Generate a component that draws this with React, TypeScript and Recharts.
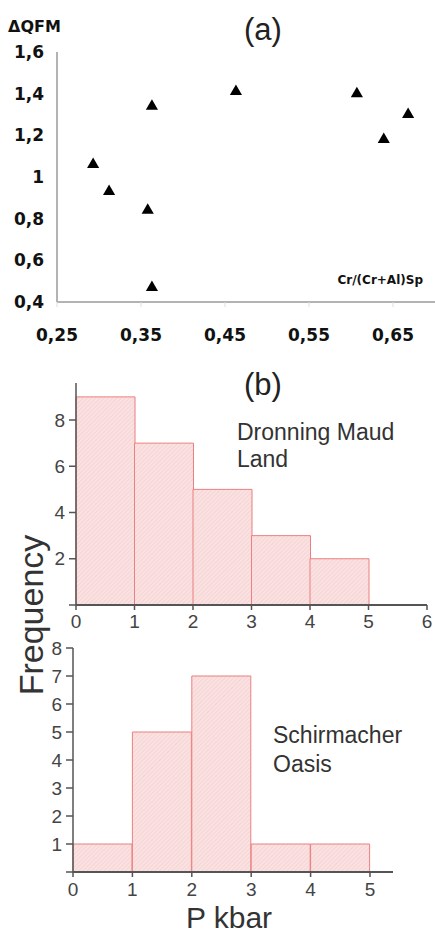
import React from 'react';
import {
  ScatterChart,
  Scatter,
  BarChart,
  Bar,
  XAxis,
  YAxis,
  ZAxis,
} from 'recharts';

// (a) ΔQFM vs Cr/(Cr+Al) in spinel
const crNumber = [0.293, 0.312, 0.358, 0.363, 0.363, 0.463, 0.607, 0.639, 0.668];
const dQFM = [1.06, 0.93, 0.84, 0.47, 1.34, 1.41, 1.4, 1.18, 1.3];
const scatterXTicks = [0.25, 0.35, 0.45, 0.55, 0.65];
const scatterYTicks = [0.4, 0.6, 0.8, 1, 1.2, 1.4, 1.6];

// (b) pressure histograms, bins of 1 kbar
const binStarts = [0, 1, 2, 3, 4];
const dmlCounts = [9, 7, 5, 3, 2];
const soCounts = [1, 5, 7, 1, 1];
const dmlXTicks = [0, 1, 2, 3, 4, 5, 6];
const dmlYTicks = [0, 2, 4, 6, 8];
const soXTicks = [0, 1, 2, 3, 4, 5];
const soYTicks = [0, 1, 2, 3, 4, 5, 6, 7, 8];

const points = crNumber.map((x, i) => ({ x, y: dQFM[i] }));
const dmlData = binStarts.map((lo, i) => ({ bin: `${lo}-${lo + 1}`, lo, count: dmlCounts[i] }));
const soData = binStarts.map((lo, i) => ({ bin: `${lo}-${lo + 1}`, lo, count: soCounts[i] }));

const comma = (v: number) => String(v).replace('.', ',');
const hideZero = (v: number) => (v === 0 ? '' : String(v));

const BOLD_TICK = {
  fontSize: 17,
  fontWeight: 'bold',
  fill: '#111',
  fontFamily: 'DejaVu Sans',
};
const HIST_TICK = {
  fontSize: 19,
  fill: '#444',
  fontFamily: 'Liberation Sans, Arial',
};
const AXIS_GRAY = '#b3b3b3';
const AXIS_DARK = '#555';
const BAR_STROKE = '#ec7f7f';

function Hatch({ id }: { id: string }) {
  return (
    <defs>
      <pattern
        id={id}
        width="3"
        height="3"
        patternUnits="userSpaceOnUse"
        patternTransform="rotate(45)"
      >
        <rect width="3" height="3" fill="#fbe2e2" />
        <line x1="0" y1="0" x2="0" y2="3" stroke="#f0c6c6" strokeWidth="1" />
      </pattern>
    </defs>
  );
}

export default function App() {
  return (
    <div
      style={{
        position: 'absolute',
        left: 0,
        top: 0,
        width: 435,
        height: 933,
        background: '#fff',
        overflow: 'hidden',
      }}
    >
      <div style={{ position: 'absolute', left: 0, top: 0 }}>
        <ScatterChart width={435} height={347} margin={{ top: 52, right: 0, bottom: 0, left: 0 }}>
          <XAxis
            type="number"
            dataKey="x"
            domain={[0.25, 0.7]}
            ticks={scatterXTicks}
            tickFormatter={comma}
            allowDataOverflow
            height={45}
            tickSize={5}
            tickMargin={22}
            stroke={AXIS_GRAY}
            axisLine={{ stroke: AXIS_GRAY, strokeWidth: 2 }}
            tickLine={{ stroke: '#ddd' }}
            tick={BOLD_TICK}
          />
          <XAxis
            xAxisId="top"
            orientation="top"
            type="number"
            domain={[0.25, 0.7]}
            height={0}
            tick={false}
            tickLine={false}
            axisLine={{ stroke: AXIS_GRAY, strokeWidth: 2 }}
          />
          <YAxis
            type="number"
            dataKey="y"
            domain={[0.4, 1.6]}
            ticks={scatterYTicks}
            tickFormatter={comma}
            allowDataOverflow
            width={57}
            tickSize={0}
            tickMargin={13}
            axisLine={{ stroke: AXIS_GRAY, strokeWidth: 2 }}
            tick={BOLD_TICK}
          />
          <ZAxis range={[135, 135]} />
          <Scatter data={points} shape="triangle" fill="#000" isAnimationActive={false} />
        </ScatterChart>
      </div>

      <div style={{ position: 'absolute', left: 0, top: 370 }}>
        <BarChart
          width={435}
          height={265}
          data={dmlData}
          barCategoryGap={0}
          barGap={0}
          margin={{ top: 13, right: 8, bottom: 0, left: 0 }}
        >
          <Hatch id="hatchA" />
          <XAxis xAxisId="cat" dataKey="bin" hide height={0} padding={{ left: 0, right: 58.5 }} />
          <XAxis
            xAxisId="num"
            dataKey="lo"
            type="number"
            domain={[0, 6]}
            ticks={dmlXTicks}
            allowDataOverflow
            height={30}
            tickSize={5}
            tickMargin={5}
            axisLine={{ stroke: AXIS_DARK, strokeWidth: 2 }}
            tickLine={{ stroke: AXIS_DARK, strokeWidth: 1.5 }}
            tick={HIST_TICK}
          />
          <YAxis
            domain={[0, 9.6]}
            ticks={dmlYTicks}
            tickFormatter={hideZero}
            allowDataOverflow
            width={76}
            tickSize={7}
            tickMargin={4}
            axisLine={{ stroke: AXIS_DARK, strokeWidth: 1.5 }}
            tickLine={{ stroke: AXIS_DARK, strokeWidth: 1.5 }}
            tick={HIST_TICK}
          />
          <Bar
            xAxisId="cat"
            dataKey="count"
            fill="url(#hatchA)"
            stroke={BAR_STROKE}
            strokeWidth={1}
            isAnimationActive={false}
          />
        </BarChart>
      </div>

      <div style={{ position: 'absolute', left: 0, top: 635 }}>
        <BarChart
          width={435}
          height={267}
          data={soData}
          barCategoryGap={0}
          barGap={0}
          margin={{ top: 13, right: 42, bottom: 0, left: 0 }}
        >
          <Hatch id="hatchB" />
          <XAxis xAxisId="cat" dataKey="bin" hide height={0} padding={{ left: 0, right: 23 }} />
          <XAxis
            xAxisId="num"
            dataKey="lo"
            type="number"
            domain={[0, 5]}
            ticks={soXTicks}
            allowDataOverflow
            padding={{ left: 0, right: 23 }}
            height={30}
            tickSize={5}
            tickMargin={6}
            axisLine={{ stroke: AXIS_DARK, strokeWidth: 2 }}
            tickLine={{ stroke: AXIS_DARK, strokeWidth: 1.5 }}
            tick={HIST_TICK}
          />
          <YAxis
            domain={[0, 8]}
            ticks={soYTicks}
            tickFormatter={hideZero}
            allowDataOverflow
            width={73}
            tickSize={7}
            tickMargin={4}
            axisLine={{ stroke: AXIS_DARK, strokeWidth: 1.5 }}
            tickLine={{ stroke: AXIS_DARK, strokeWidth: 1.5 }}
            tick={HIST_TICK}
          />
          <Bar
            xAxisId="cat"
            dataKey="count"
            fill="url(#hatchB)"
            stroke={BAR_STROKE}
            strokeWidth={1}
            isAnimationActive={false}
          />
        </BarChart>
      </div>

      {/* titles and annotations */}
      <svg
        width={435}
        height={933}
        style={{ position: 'absolute', left: 0, top: 0, pointerEvents: 'none' }}
      >
        <g fontFamily="Liberation Sans, Arial" fill="#222">
          <text x={263} y={40} fontSize={31} textAnchor="middle">(a)</text>
          <text x={263} y={395} fontSize={31} textAnchor="middle">(b)</text>
          <text x={237} y={440} fontSize={23} fill="#333">Dronning Maud</text>
          <text x={237} y={467} fontSize={23} fill="#333">Land</text>
          <text x={273} y={743} fontSize={23} fill="#333">Schirmacher</text>
          <text x={273} y={772} fontSize={23} fill="#333">Oasis</text>
          <text x={229} y={928} fontSize={30} textAnchor="middle" fill="#333">P kbar</text>
          <text
            x={0}
            y={0}
            fontSize={34}
            textAnchor="middle"
            fill="#333"
            transform="translate(43 615) rotate(-90)"
          >
            Frequency
          </text>
        </g>
        <g fontFamily="DejaVu Sans" fontWeight="bold" fill="#111">
          <text x={8} y={32} fontSize={16}>ΔQFM</text>
          <text x={423} y={284} fontSize={12} textAnchor="end">Cr/(Cr+Al)Sp</text>
        </g>
      </svg>
    </div>
  );
}
